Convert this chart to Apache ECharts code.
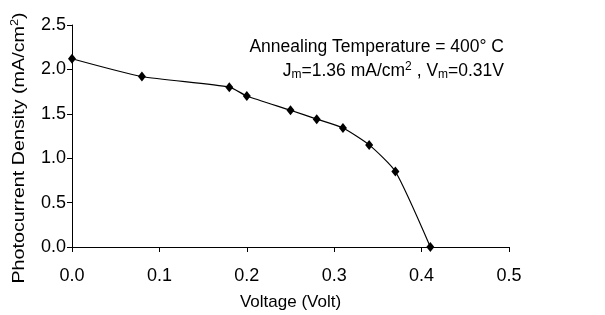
<!DOCTYPE html>
<html>
<head>
<meta charset="utf-8">
<script src="https://cdn.jsdelivr.net/npm/echarts@6/dist/echarts.min.js"></script>
<style>
  html, body { margin: 0; padding: 0; background: #fff; }
  #chart { width: 605px; height: 315px; }
</style>
</head>
<body>
<div id="chart"></div>
<script>
// voltage (V) and photocurrent density (mA/cm2)
var voltage = [0.00, 0.08, 0.18, 0.20, 0.25, 0.28, 0.31, 0.34, 0.37, 0.41];
var current = [2.12, 1.92, 1.80, 1.70, 1.54, 1.44, 1.34, 1.15, 0.85, 0.00];
var xTicks = [0, 0.1, 0.2, 0.3, 0.4, 0.5];
var yTicks = [0, 0.5, 1.0, 1.5, 2.0, 2.5];

var font = 'Liberation Sans, Arial, Helvetica, sans-serif';
var chart = echarts.init(document.getElementById('chart'));

var points = voltage.map(function (v, i) { return [v, current[i]]; });

var option = {
  animation: false,
  backgroundColor: '#fff',
  textStyle: { fontFamily: font, color: '#000' },
  grid: { left: 72, right: 96, top: 25, bottom: 68, outerBoundsMode: 'none' },
  xAxis: {
    type: 'value',
    min: xTicks[0],
    max: xTicks[xTicks.length - 1],
    interval: 0.1,
    name: 'Voltage (Volt)',
    nameLocation: 'middle',
    nameGap: 47,
    nameTextStyle: { fontFamily: font, fontSize: 17, color: '#000' },
    axisLine: { lineStyle: { color: '#000', width: 1 } },
    axisTick: { length: 5, lineStyle: { color: '#000' } },
    axisLabel: {
      fontFamily: font, fontSize: 18, color: '#000', margin: 20,
      formatter: function (v) { return v.toFixed(1); }
    },
    splitLine: { show: false }
  },
  yAxis: {
    type: 'value',
    min: yTicks[0],
    max: yTicks[yTicks.length - 1],
    interval: 0.5,
    axisLine: { show: true, lineStyle: { color: '#000', width: 1 } },
    axisTick: { show: true, length: 5, lineStyle: { color: '#000' } },
    axisLabel: {
      fontFamily: font, fontSize: 18, color: '#000', margin: 6,
      formatter: function (v) { return v.toFixed(1); }
    },
    splitLine: { show: false }
  },
  graphic: [
    {
      type: 'text',
      x: 19, y: 148,
      rotation: Math.PI / 2,
      scaleX: 1.16,
      style: {
        text: 'Photocurrent Density (mA/cm{sup|2})',
        font: '17px ' + font,
        fill: '#000',
        align: 'center',
        verticalAlign: 'middle',
        rich: {
          sup: { fontSize: 11, fontFamily: font, verticalAlign: 'top', padding: [0, 0, 8, 0] }
        }
      }
    },
    {
      type: 'text',
      x: 504, y: 47,
      style: {
        text: 'Annealing Temperature = 400° C',
        font: '17.5px ' + font,
        fill: '#000',
        align: 'right',
        verticalAlign: 'middle'
      }
    },
    {
      type: 'text',
      x: 504, y: 71,
      style: {
        text: 'J{sub|m}=1.36 mA/cm{sup|2} , V{sub|m}=0.31V',
        font: '17.5px ' + font,
        fill: '#000',
        align: 'right',
        verticalAlign: 'middle',
        rich: {
          sub: { fontSize: 12, fontFamily: font, padding: [8, 0, 0, 0] },
          sup: { fontSize: 12, fontFamily: font, padding: [0, 0, 8, 0] }
        }
      }
    }
  ],
  series: [
    {
      type: 'line',
      data: points,
      smooth: 0.2,
      symbol: 'diamond',
      symbolSize: [8, 10],
      itemStyle: { color: '#000' },
      lineStyle: { color: '#000', width: 1.2 }
    }
  ]
};

chart.setOption(option);
</script>
</body>
</html>
